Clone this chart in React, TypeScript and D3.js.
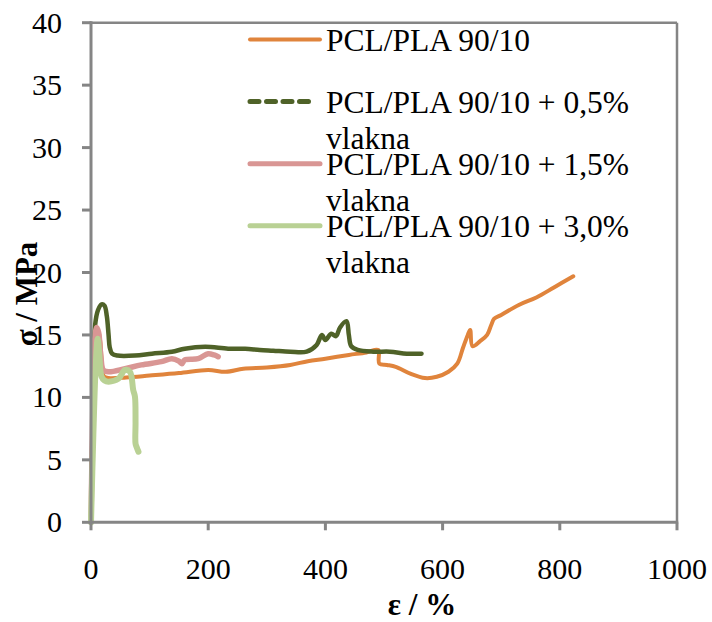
import React from "react";
import * as d3 from "d3";

const xTicks = [0, 200, 400, 600, 800, 1000];
const yTicks = [0, 5, 10, 15, 20, 25, 30, 35, 40];

const seriesNames = [
  ["PCL/PLA 90/10"],
  ["PCL/PLA 90/10 + 0,5%", "vlakna"],
  ["PCL/PLA 90/10 + 1,5%", "vlakna"],
  ["PCL/PLA 90/10 + 3,0%", "vlakna"],
];
const seriesColors = ["#E0843C", "#4F6228", "#D99694", "#B9D194"];

const pcl: [number, number][] = [
  [0, 0], [5, 9], [9, 14], [13, 15.2], [16, 14.4], [19, 12.5], [22, 11.7], [30, 11.55],
  [60, 11.6], [100, 11.75], [150, 11.95], [200, 12.2], [230, 12.05], [260, 12.3],
  [300, 12.4], [340, 12.6], [370, 12.9], [400, 13.1], [440, 13.4], [470, 13.6],
  [490, 13.8], [492, 12.7], [505, 12.6], [520, 12.45], [545, 11.9], [570, 11.55],
  [590, 11.65], [610, 12.05], [625, 12.7], [635, 14.0], [643, 15.0], [647, 15.4],
  [651, 14.1], [664, 14.5], [676, 15.0], [683, 15.8], [688, 16.3], [700, 16.6],
  [730, 17.4], [760, 18.0], [790, 18.8], [823, 19.7],
];
const pcl05: [number, number][] = [
  [0, 0], [3, 9], [7, 15.8], [12, 17.0], [18, 17.45], [23, 17.35], [27, 16.5], [30, 15],
  [32, 14], [36, 13.5], [45, 13.35], [75, 13.35], [104, 13.5], [138, 13.65], [160, 13.9],
  [195, 14.05], [234, 13.9], [263, 13.9], [288, 13.8], [311, 13.74], [340, 13.66],
  [368, 13.66], [385, 14.2], [394, 15.0], [400, 14.6], [410, 15.1], [418, 14.9],
  [425, 15.6], [436, 16.1], [440, 15.0], [444, 14.1], [455, 13.8], [482, 13.66],
  [510, 13.66], [539, 13.5], [564, 13.5],
];
const pcl15: [number, number][] = [
  [0, 0], [3, 9], [6, 14.5], [9.7, 15.6], [13, 15.2], [17, 13.2], [21, 12.2], [30, 12.05],
  [58, 12.3], [86, 12.6], [120, 12.86], [138, 13.1], [150, 12.9], [155, 12.7],
  [160, 13.0], [183, 13.1], [200, 13.5], [210, 13.4], [217, 13.26],
];
const pcl30: [number, number][] = [
  [0, 0], [4, 7], [8, 12.5], [11.4, 14.7], [14, 13.5], [18, 11.66], [23, 11.35],
  [30, 11.26], [47, 11.5], [58, 12.2], [66.5, 12.05], [72, 10.6], [75, 10.06],
  [76, 8], [76, 6.3], [78, 6.0], [81, 5.65],
];
const seriesData = [pcl, pcl05, pcl15, pcl30];
const seriesWidths = [4, 4.5, 5.5, 6];

const x = d3.scaleLinear().domain([0, 1000]).range([91, 677]);
const y = d3.scaleLinear().domain([0, 40]).range([522.3, 22.7]);

const line = d3
  .line<[number, number]>()
  .x((d) => x(d[0]))
  .y((d) => y(d[1]))
  .curve(d3.curveCatmullRom.alpha(0.5));

const FONT = "Liberation Serif, Times New Roman, DejaVu Serif, serif";
const AXIS = "#858585";
const tStyle: React.CSSProperties = { fontFamily: FONT };

export default function App() {
  const legendY = (i: number) => 39.5 + i * 62.1;
  return (
    <svg
      width={712}
      height={622}
      style={{ position: "absolute", left: 0, top: 0, background: "#fff", fontFamily: FONT }}
    >
      {/* plot frame */}
      <line x1={x(0)} x2={x(1000)} y1={y(40)} y2={y(40)} stroke={AXIS} strokeWidth={2.5} />
      <line x1={x(1000)} x2={x(1000)} y1={y(40)} y2={y(0)} stroke={AXIS} strokeWidth={2.5} />

      {/* series */}
      {seriesData.map((d, i) => (
        <path
          key={i}
          d={line(d) || ""}
          fill="none"
          stroke={seriesColors[i]}
          strokeWidth={seriesWidths[i]}
          strokeLinejoin="round"
          strokeLinecap="round"
        />
      ))}

      {/* axes */}
      <line x1={x(0)} x2={x(0)} y1={y(40) - 1.5} y2={y(0) + 1.5} stroke={AXIS} strokeWidth={3} />
      <line x1={x(0) - 1.5} x2={x(1000) + 1.2} y1={y(0)} y2={y(0)} stroke={AXIS} strokeWidth={3} />
      {yTicks.map((t) => (
        <g key={"y" + t}>
          <line x1={x(0) - 9} x2={x(0)} y1={y(t)} y2={y(t)} stroke={AXIS} strokeWidth={3} />
          <text x={62} y={y(t) + 10} textAnchor="end" fontSize={30} fill="#000" style={tStyle}>
            {t}
          </text>
        </g>
      ))}
      {xTicks.map((t) => (
        <g key={"x" + t}>
          <line x1={x(t)} x2={x(t)} y1={y(0)} y2={y(0) + 8} stroke={AXIS} strokeWidth={3} />
          <text x={x(t)} y={579} textAnchor="middle" fontSize={30} fill="#000" style={tStyle}>
            {t}
          </text>
        </g>
      ))}

      {/* axis titles */}
      <text x={422} y={615} textAnchor="middle" fontSize={31} fontWeight="bold" fill="#000" style={tStyle}>
        ε / %
      </text>
      <text
        transform="translate(37,294) rotate(-90)"
        textAnchor="middle"
        fontSize={31}
        fontWeight="bold"
        fill="#000"
        style={tStyle}
      >
        σ / MPa
      </text>

      {/* legend */}
      {seriesNames.map((names, i) => (
        <g key={"l" + i}>
          <line
            x1={250}
            x2={i === 1 ? 316 : 320}
            y1={legendY(i)}
            y2={legendY(i)}
            stroke={seriesColors[i]}
            strokeWidth={i === 0 ? 4 : 5}
            strokeLinecap="round"
            strokeDasharray={i === 1 ? "9 7.5" : undefined}
          />
          {names.map((n, j) => (
            <text key={j} x={326} y={legendY(i) + 11 + j * 36} fontSize={31.5} fill="#000" style={tStyle}>
              {n}
            </text>
          ))}
        </g>
      ))}
    </svg>
  );
}
